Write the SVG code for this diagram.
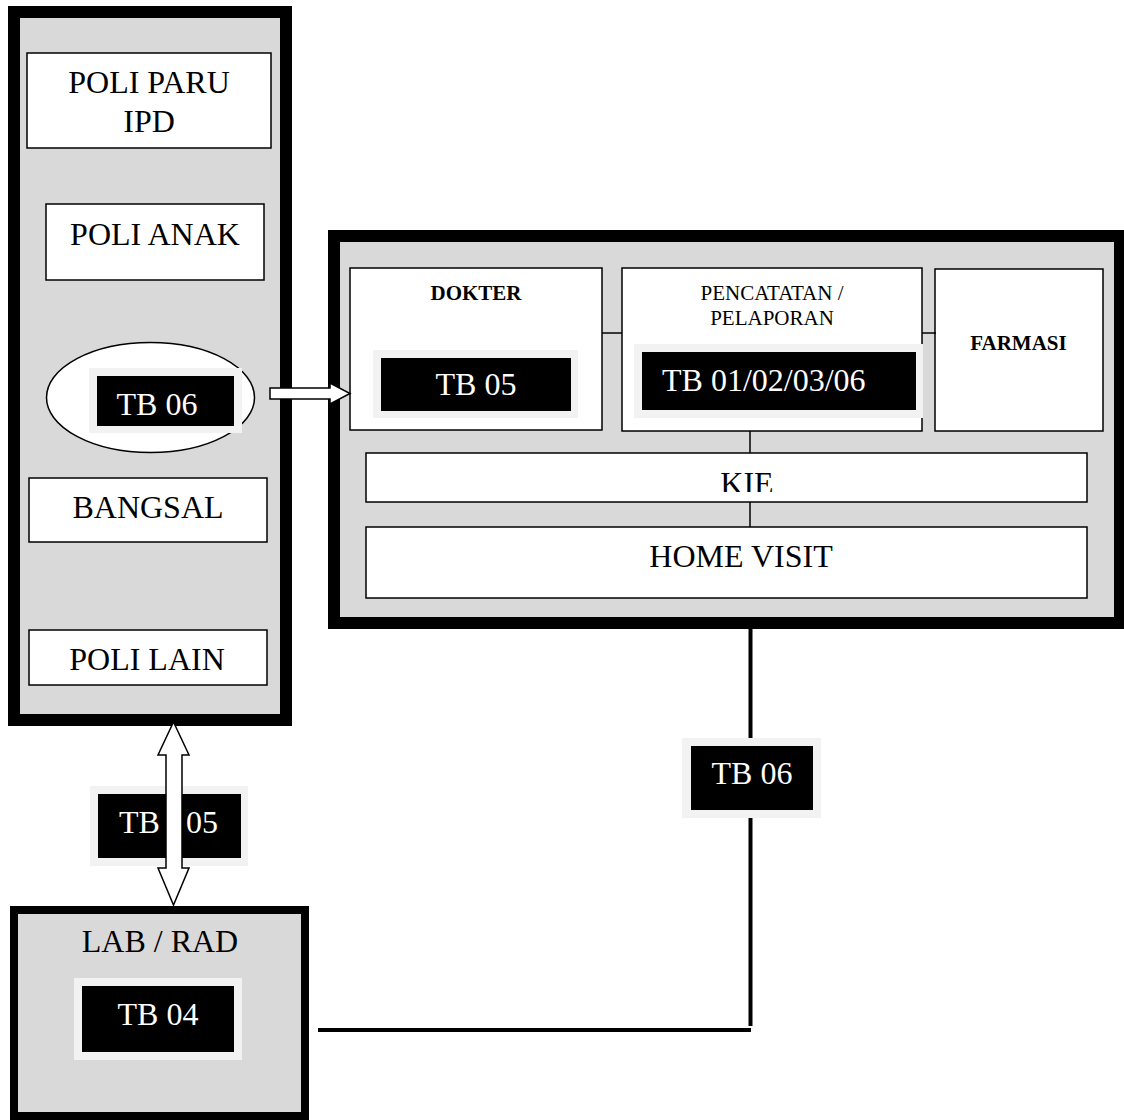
<svg xmlns="http://www.w3.org/2000/svg" width="1124" height="1120" viewBox="0 0 1124 1120">
<defs>
<style>
.panel{fill:#d9d9d9;stroke:#000}
.box{fill:#fff;stroke:#000;stroke-width:1.5}
.t{font-family:"Liberation Serif","Times New Roman",serif;font-size:32px;fill:#000;text-anchor:middle}
.tb{font-family:"Liberation Serif","Times New Roman",serif;font-size:32px;fill:#fff;text-anchor:middle}
.s{font-family:"Liberation Serif","Times New Roman",serif;font-size:21px;fill:#000;text-anchor:middle}
.b{font-weight:bold}
.halo{fill:#f2f2f2}
.blk{fill:#000}
.ln{stroke:#000;stroke-width:1.5;fill:none}
.thick{stroke:#000;stroke-width:4;fill:none}
.arr{fill:#fff;stroke:#000;stroke-width:1.5}
</style>
<clipPath id="kieclip"><rect x="366" y="453" width="721" height="39"/></clipPath>
</defs>
<rect width="1124" height="1120" fill="#fff"/>

<g id="panel-left"><rect class="panel" x="14" y="12" width="272" height="708" stroke-width="12"/></g>
<g id="panel-main"><rect class="panel" x="334" y="236" width="786" height="387" stroke-width="12"/></g>
<g id="panel-lab"><rect class="panel" x="14" y="910" width="291" height="206" stroke-width="8"/>
<text class="t" x="160" y="952">LAB / RAD</text>
<rect class="halo" x="74" y="978" width="168" height="82"/>
<rect class="blk" x="82" y="986" width="152" height="66"/>
<text class="tb" x="158" y="1025">TB 04</text>
</g>

<g id="poli-paru"><rect class="box" x="27" y="53" width="244" height="95"/>
<text class="t" x="149" y="93">POLI PARU</text><text class="t" x="149" y="132">IPD</text></g>
<g id="poli-anak"><rect class="box" x="46" y="204" width="218" height="76"/>
<text class="t" x="155" y="245">POLI ANAK</text></g>
<g id="tb06-ellipse"><ellipse cx="150.5" cy="397.5" rx="104" ry="55" fill="#fff" stroke="#000" stroke-width="1.5"/>
<rect class="halo" x="89" y="368" width="153" height="65"/>
<rect class="blk" x="97" y="376" width="137" height="50"/>
<text class="tb" x="157" y="415">TB 06</text></g>
<g id="bangsal"><rect class="box" x="29" y="478" width="238" height="64"/>
<text class="t" x="148" y="518">BANGSAL</text></g>
<g id="poli-lain"><rect class="box" x="29" y="630" width="238" height="55"/>
<text class="t" x="147" y="670">POLI LAIN</text></g>

<g id="dokter"><rect class="box" x="350" y="268" width="252" height="162"/>
<text class="s b" x="476" y="300">DOKTER</text>
<rect class="halo" x="373" y="350" width="205" height="68"/>
<rect class="blk" x="381" y="358" width="190" height="53"/>
<text class="tb" x="476" y="395">TB 05</text></g>
<g id="pencatatan"><rect class="box" x="622" y="268" width="300" height="163"/>
<text class="s" x="772" y="300">PENCATATAN /</text>
<text class="s" x="772" y="325">PELAPORAN</text>
<rect class="halo" x="634" y="344" width="289" height="74"/>
<rect class="blk" x="642" y="352" width="274" height="58"/>
<text class="tb" x="662" y="391" style="text-anchor:start">TB 01/02/03/06</text></g>
<g id="farmasi"><rect class="box" x="935" y="269" width="168" height="162"/>
<text class="s b" x="1018.5" y="350">FARMASI</text></g>
<g id="kie"><rect class="box" x="366" y="453" width="721" height="49"/>
<text class="t" x="747" y="494" clip-path="url(#kieclip)">KIE</text></g>
<g id="home-visit"><rect class="box" x="366" y="527" width="721" height="71"/>
<text class="t" x="741" y="567">HOME VISIT</text></g>

<g id="label-tb05">
<rect class="halo" x="90" y="786" width="158" height="80"/>
<rect class="blk" x="98" y="794" width="143" height="64"/>
<text class="tb" x="168.5" y="833">TB<tspan dx="18"> 05</tspan></text>
</g>

<g id="connectors">
<polygon class="arr" points="270,388 330,388 330,383 350,393.5 330,404 330,399 270,399"/>
<polygon class="arr" points="173.5,722 189,755 182,755 182,868 189,868 173.5,905 158,868 166,868 166,755 158,755"/>
<line class="ln" x1="602" y1="333" x2="622" y2="333"/>
<line class="ln" x1="922" y1="333" x2="936" y2="333"/>
<line class="ln" x1="750" y1="431" x2="750" y2="453"/>
<line class="ln" x1="750" y1="502" x2="750" y2="527"/>
<line class="thick" x1="750.5" y1="629" x2="750.5" y2="1026"/>
<line class="thick" x1="318" y1="1030" x2="751" y2="1030"/>
</g>

<g id="label-tb06">
<rect class="halo" x="682" y="738" width="139" height="80"/>
<rect class="blk" x="691" y="746" width="122" height="64"/>
<text class="tb" x="752" y="784">TB 06</text>
</g>
</svg>
